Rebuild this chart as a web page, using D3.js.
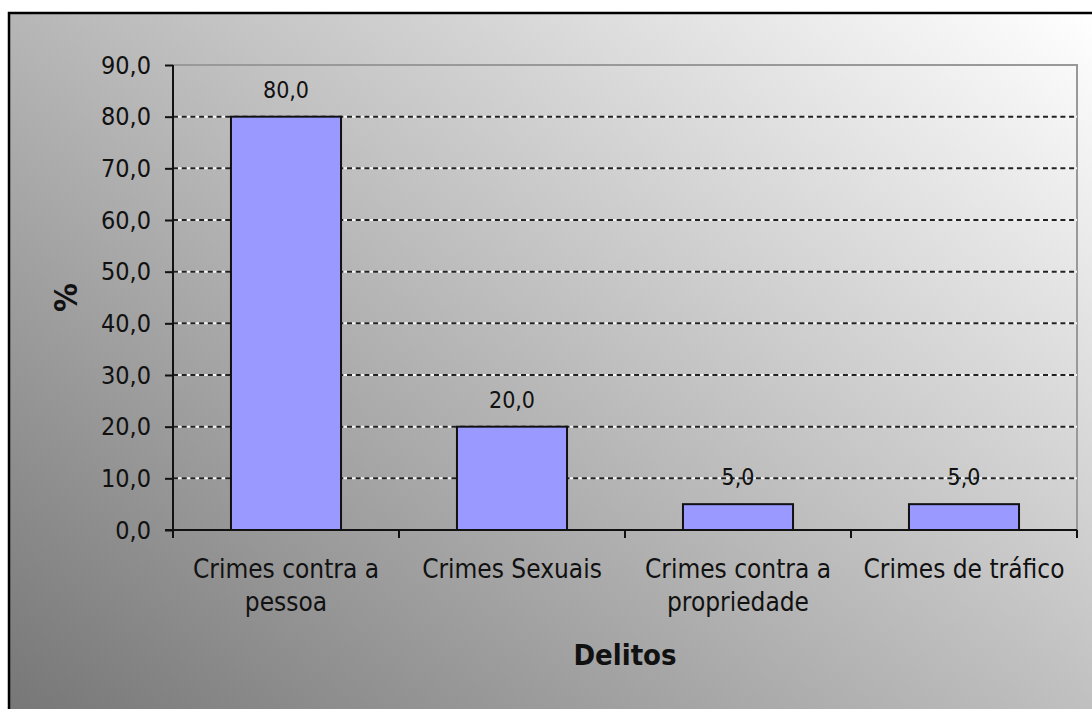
<!DOCTYPE html>
<html>
<head>
<meta charset="utf-8">
<script src="https://cdn.jsdelivr.net/npm/d3@7"></script>
<style>
  html, body { margin: 0; padding: 0; background: #ffffff; }
  svg { display: block; }
  text { font-family: "DejaVu Sans Condensed", "DejaVu Sans", sans-serif; font-stretch: condensed; fill: #111; }
</style>
</head>
<body>
<svg id="chart" width="1092" height="709"></svg>
<script>
// ---- data ----
const categories = [["Crimes contra a", "pessoa"], ["Crimes Sexuais"], ["Crimes contra a", "propriedade"], ["Crimes de tráfico"]];
const values = [80.0, 20.0, 5.0, 5.0];
const yTicks = [0, 10, 20, 30, 40, 50, 60, 70, 80, 90];
const yTitle = "%";
const xTitle = "Delitos";

const fmt = v => v.toFixed(1).replace(".", ",");

const svg = d3.select("#chart");
const W = 1092, H = 709;

// background gradient
const defs = svg.append("defs");
const grad = defs.append("linearGradient")
  .attr("id", "bg").attr("gradientUnits", "userSpaceOnUse")
  .attr("x1", 192).attr("y1", 844).attr("x2", 909).attr("y2", -122);
grad.append("stop").attr("offset", "0%").attr("stop-color", "#777777");
grad.append("stop").attr("offset", "100%").attr("stop-color", "#ffffff");

svg.append("rect").attr("x", 9).attr("y", 13).attr("width", W + 10).attr("height", H + 10)
  .attr("fill", "url(#bg)").attr("stroke", "#000").attr("stroke-width", 2.5);

const plot = { left: 173, right: 1077, top: 65, bottom: 530 };

const x = d3.scaleBand().domain(d3.range(categories.length))
  .range([plot.left, plot.right]).paddingInner(0.513).paddingOuter(0.2565);
const y = d3.scaleLinear().domain([0, 90]).range([plot.bottom, plot.top]);

// plot border (top & right) gray
svg.append("path")
  .attr("d", `M${plot.left},${plot.top}H${plot.right}V${plot.bottom}`)
  .attr("fill", "none").attr("stroke", "#999999").attr("stroke-width", 2);

// gridlines
const gridVals = yTicks.filter(v => v > 0 && v < 90);
const g = svg.append("g");
g.selectAll("line.gw").data(gridVals).join("line")
  .attr("x1", plot.left).attr("x2", plot.right)
  .attr("y1", d => y(d)).attr("y2", d => y(d))
  .attr("stroke", "#f4f4f4").attr("stroke-width", 2);
g.selectAll("line.gd").data(gridVals).join("line")
  .attr("x1", plot.left).attr("x2", plot.right)
  .attr("y1", d => y(d)).attr("y2", d => y(d))
  .attr("stroke", "#222").attr("stroke-width", 2)
  .attr("stroke-dasharray", "5,3.7");

// bars
svg.selectAll("rect.bar").data(values).join("rect")
  .attr("class", "bar")
  .attr("x", (d, i) => x(i)).attr("width", x.bandwidth())
  .attr("y", d => y(d)).attr("height", d => y(0) - y(d))
  .attr("fill", "#9999ff").attr("stroke", "#111").attr("stroke-width", 2);

// data labels
svg.selectAll("text.dl").data(values).join("text")
  .attr("x", (d, i) => x(i) + x.bandwidth() / 2)
  .attr("y", d => y(d) - 19)
  .attr("text-anchor", "middle")
  .attr("font-size", 23)
  .text(d => fmt(d));

// y axis
const yAxis = d3.axisLeft(y).tickValues(yTicks).tickSize(8).tickPadding(14)
  .tickFormat(d => fmt(d));
const ya = svg.append("g").attr("transform", `translate(${plot.left},0)`).call(yAxis);
ya.select(".domain").remove();
ya.selectAll(".tick line").attr("stroke", "#111").attr("stroke-width", 2);
ya.selectAll(".tick text").attr("font-size", 25).attr("fill", "#111")
  .style("font-family", "'DejaVu Sans Condensed', 'DejaVu Sans', sans-serif");
svg.append("line").attr("x1", plot.left).attr("x2", plot.left)
  .attr("y1", plot.top).attr("y2", plot.bottom + 8)
  .attr("stroke", "#111").attr("stroke-width", 2);

// x axis
svg.append("line").attr("x1", plot.left - 8).attr("x2", plot.right)
  .attr("y1", plot.bottom).attr("y2", plot.bottom)
  .attr("stroke", "#111").attr("stroke-width", 2);
const bounds = d3.range(categories.length + 1).map(i => plot.left + i * x.step());
svg.selectAll("line.xt").data(bounds).join("line")
  .attr("x1", d => d).attr("x2", d => d)
  .attr("y1", plot.bottom).attr("y2", plot.bottom + 8)
  .attr("stroke", "#111").attr("stroke-width", 2);

// category labels
const cl = svg.selectAll("text.cl").data(categories).join("text")
  .attr("text-anchor", "middle").attr("font-size", 26)
  .attr("x", (d, i) => x(i) + x.bandwidth() / 2)
  .attr("y", 578);
cl.selectAll("tspan").data(d => d).join("tspan")
  .attr("x", function () { return d3.select(this.parentNode).attr("x"); })
  .attr("dy", (d, i) => i === 0 ? 0 : 33)
  .text(d => d);

// axis titles
svg.append("text").attr("text-anchor", "middle").attr("font-size", 29).attr("font-weight", "bold")
  .attr("x", (plot.left + plot.right) / 2).attr("y", 665).text(xTitle);
svg.append("text").attr("text-anchor", "middle").attr("font-size", 32).attr("font-weight", "bold")
  .attr("transform", `translate(77,${(plot.top + plot.bottom) / 2}) rotate(-90)`)
  .text(yTitle);
</script>
</body>
</html>
